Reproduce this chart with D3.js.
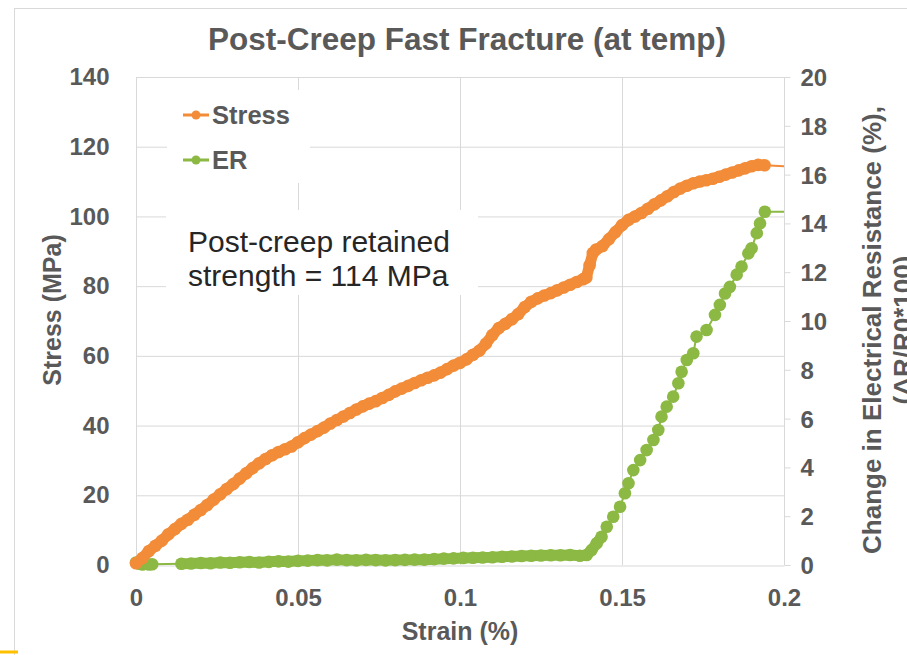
<!DOCTYPE html>
<html><head><meta charset="utf-8">
<script src="https://cdn.jsdelivr.net/npm/d3@7"></script>
<style>body{margin:0;background:#fff;overflow:hidden}</style>
</head><body><svg id="c" width="907" height="655"></svg>
<script>
const titleText = "Post-Creep Fast Fracture (at temp)";
const xTicks = [0, 0.05, 0.1, 0.15, 0.2];
const xTickLabels = ["0", "0.05", "0.1", "0.15", "0.2"];
const stressTicks = [0, 20, 40, 60, 80, 100, 120, 140];
const erTicks = [0, 2, 4, 6, 8, 10, 12, 14, 16, 18, 20];
const seriesNames = ["Stress", "ER"];

const stressStrain = [0,0.002,0.004,0.006,0.008,0.010,0.012,0.014,0.016,0.018,0.020,0.022,0.024,0.026,0.028,0.030,0.032,0.034,0.036,0.038,0.040,0.042,0.044,0.046,0.048,0.050,0.052,0.054,0.056,0.058,0.060,0.062,0.064,0.066,0.068,0.070,0.072,0.074,0.076,0.078,0.080,0.082,0.084,0.086,0.088,0.090,0.092,0.094,0.096,0.098,0.100,0.102,0.104,0.106,0.108,0.110,0.112,0.114,0.116,0.118,0.120,0.122,0.124,0.126,0.128,0.130,0.132,0.134,0.136,0.138,0.139,0.140,0.141,0.142,0.144,0.146,0.148,0.150,0.152,0.154,0.156,0.158,0.160,0.162,0.164,0.166,0.168,0.170,0.172,0.174,0.176,0.178,0.180,0.182,0.184,0.186,0.188,0.190,0.192,0.194,0.205];
const stressValues = [0.5,2,4,5.5,7,8.8,10.3,11.8,13.0,14.4,15.8,17.2,18.8,20.3,21.8,23.2,24.8,26.3,27.8,29.2,30.4,31.5,32.4,33.2,34.0,35.2,36.4,37.4,38.4,39.4,40.6,41.6,42.6,43.6,44.6,45.5,46.3,47.0,47.9,48.8,49.8,50.6,51.4,52.2,53.0,53.7,54.4,55.2,56.2,57.2,58.0,59.0,60.3,61.5,63.5,66.0,68.0,69.2,70.5,72.0,74.0,75.5,76.5,77.3,78.0,78.8,79.6,80.4,81.2,82.0,82.5,86.0,89.5,90.5,91.5,93.5,95.5,97.5,99.0,100.0,101.0,102.2,103.5,104.6,105.8,107.0,108.0,108.8,109.5,110.0,110.4,110.8,111.4,112.0,112.6,113.2,113.8,114.4,114.8,114.7,114.2];

const erStrain = [0,0.001,0.002,0.003,0.004,0.005,0.014,0.017,0.020,0.023,0.026,0.029,0.032,0.035,0.038,0.041,0.044,0.047,0.050,0.053,0.056,0.059,0.062,0.065,0.068,0.071,0.074,0.077,0.080,0.083,0.086,0.089,0.092,0.095,0.098,0.101,0.104,0.107,0.110,0.113,0.116,0.119,0.122,0.125,0.128,0.131,0.134,0.137,0.1391,0.1406,0.1422,0.1437,0.1453,0.1473,0.1494,0.1509,0.1520,0.1535,0.1556,0.1576,0.1597,0.1612,0.1622,0.1638,0.1658,0.1674,0.1684,0.1700,0.1720,0.1730,0.1761,0.1787,0.1802,0.1818,0.1833,0.1854,0.1869,0.1890,0.1900,0.1916,0.1926,0.1941,0.205];
const erValues = [0.1,0.05,0.02,0.05,0.02,0.03,0.05,0.06,0.08,0.07,0.10,0.09,0.11,0.12,0.10,0.13,0.15,0.14,0.17,0.18,0.20,0.19,0.22,0.20,0.19,0.21,0.20,0.19,0.20,0.21,0.22,0.22,0.24,0.26,0.27,0.29,0.30,0.31,0.32,0.34,0.35,0.37,0.38,0.39,0.40,0.40,0.41,0.38,0.41,0.61,0.89,1.16,1.57,1.98,2.39,2.94,3.35,3.89,4.30,4.71,5.12,5.53,6.08,6.49,6.90,7.45,7.92,8.40,8.68,9.36,9.63,10.25,10.66,11.13,11.40,11.90,12.23,12.77,12.98,13.60,14.00,14.48,14.48];

const stressColor = "#F28C38";
const erColor = "#8BB943";
const textColor = "#595959";
const gridColor = "#D9D9D9";

const svg = d3.select("#c");
const X0 = 136, X1 = 784, YT = 77, YB = 565;
const x = d3.scaleLinear().domain([0, 0.2]).range([X0, X1]);
const yL = d3.scaleLinear().domain([0, 140]).range([YB, YT]);
const yR = d3.scaleLinear().domain([0, 20]).range([YB, YT]);

// chart frame
svg.append("rect").attr("x", 14.5).attr("y", 8.5).attr("width", 1000).attr("height", 700)
  .attr("fill", "none").attr("stroke", "#D9D9D9").attr("stroke-width", 1);
svg.append("line").attr("x1", 0).attr("x2", 18).attr("y1", 652).attr("y2", 652)
  .attr("stroke", "#FFC000").attr("stroke-width", 3);

// gridlines
svg.append("g").selectAll("line").data(stressTicks.slice(1)).join("line")
  .attr("x1", X0).attr("x2", X1).attr("y1", d => yL(d) + 0.5).attr("y2", d => yL(d) + 0.5)
  .attr("stroke", gridColor).attr("stroke-width", 1);
svg.append("g").selectAll("line").data(xTicks.slice(1, -1)).join("line")
  .attr("x1", d => Math.round(x(d)) + 0.5).attr("x2", d => Math.round(x(d)) + 0.5).attr("y1", YT).attr("y2", YB)
  .attr("stroke", gridColor).attr("stroke-width", 1);

// axes
const fontTick = "bold 24px 'Liberation Sans', Arial, sans-serif";
const gx = svg.append("g").attr("transform", `translate(0,${YB + 0.5})`)
  .call(d3.axisBottom(x).tickValues(xTicks).tickFormat((d, i) => xTickLabels[i]).tickSize(0).tickPadding(23));
const gl = svg.append("g").attr("transform", `translate(${X0 + 0.5},0)`)
  .call(d3.axisLeft(yL).tickValues(stressTicks).tickFormat(d3.format("d")).tickSize(0).tickPadding(27));
const gr = svg.append("g").attr("transform", `translate(${X1 + 0.5},0)`)
  .call(d3.axisRight(yR).tickValues(erTicks).tickFormat(d3.format("d")).tickSize(6).tickPadding(10));
[gx, gl, gr].forEach(g => {
  g.select(".domain").attr("stroke", gridColor);
  g.selectAll(".tick line").attr("stroke", gridColor);
  g.selectAll(".tick text").style("font", fontTick).attr("fill", textColor);
});
gl.select(".domain").attr("d", `M0,${YT}V${YB}`);
gr.select(".domain").attr("d", `M0,${YT}V${YB}`);
gr.selectAll(".tick text").attr("dy", "0.35em");

// legend background and annotation background
svg.append("rect").attr("x", 167).attr("y", 90).attr("width", 143).attr("height", 93).attr("fill", "#fff");
svg.append("rect").attr("x", 166).attr("y", 210).attr("width", 312).attr("height", 85).attr("fill", "#fff");

// series
const g = svg.append("g");
g.append("clipPath").attr("id", "clip").append("rect").attr("x", X0 - 8).attr("y", YT - 10).attr("width", X1 - X0 + 8).attr("height", YB - YT + 20);
const plot = g.append("g").attr("clip-path", "url(#clip)");

const stressData = stressStrain.map((s, i) => [s, stressValues[i]]);
const erData = erStrain.map((s, i) => [s, erValues[i]]);
const lineGen = yScale => d3.line().x(d => x(d[0])).y(d => yScale(d[1]));

function drawSeries(data, yScale, color, bandData) {
  plot.append("path").datum(data)
    .attr("d", lineGen(yScale))
    .attr("fill", "none").attr("stroke", color).attr("stroke-width", 2);
  // dense-marker band where the recorded points overlap into a solid trace
  plot.append("path").datum(bandData)
    .attr("d", lineGen(yScale))
    .attr("fill", "none").attr("stroke", color).attr("stroke-width", 11)
    .attr("stroke-linejoin", "round").attr("stroke-linecap", "round");
  plot.append("g").selectAll("circle").data(data).join("circle")
    .attr("cx", d => x(d[0])).attr("cy", d => yScale(d[1])).attr("r", 6.3)
    .attr("fill", color);
}
drawSeries(erData, yR, erColor, erData.filter(d => d[0] >= 0.014 && d[0] <= 0.1437));
drawSeries(stressData, yL, stressColor, stressData.filter(d => d[0] <= 0.195));

// legend
const legend = svg.append("g");
[[stressColor, 115, seriesNames[0]], [erColor, 160, seriesNames[1]]].forEach(([c, yy, name]) => {
  legend.append("line").attr("x1", 183).attr("x2", 209).attr("y1", yy).attr("y2", yy).attr("stroke", c).attr("stroke-width", 3);
  legend.append("circle").attr("cx", 196).attr("cy", yy).attr("r", 4.5).attr("fill", c);
  legend.append("text").attr("x", 212).attr("y", yy + 8.5).text(name)
    .style("font", "bold 25.5px 'Liberation Sans', Arial, sans-serif").attr("fill", textColor);
});

// annotation
const ann = svg.append("text").style("font", "30px 'Liberation Sans', Arial, sans-serif").attr("fill", "#262626");
ann.append("tspan").attr("x", 188).attr("y", 252).text("Post-creep retained");
ann.append("tspan").attr("x", 188).attr("y", 286).text("strength = 114 MPa");

// title
svg.append("text").attr("x", 467).attr("y", 50).attr("text-anchor", "middle")
  .style("font", "bold 31.5px 'Liberation Sans', Arial, sans-serif").attr("fill", textColor).text(titleText);

// axis titles
svg.append("text").attr("x", 460).attr("y", 640).attr("text-anchor", "middle")
  .style("font", "bold 25px 'Liberation Sans', Arial, sans-serif").attr("fill", textColor).text("Strain (%)");
svg.append("text").attr("transform", "translate(61,310) rotate(-90)").attr("text-anchor", "middle")
  .style("font", "bold 25px 'Liberation Sans', Arial, sans-serif").attr("fill", textColor).text("Stress (MPa)");
const rt = svg.append("text").attr("transform", "translate(881,330) rotate(-90)").attr("text-anchor", "middle")
  .style("font", "bold 26px 'Liberation Sans', Arial, sans-serif").attr("fill", textColor);
rt.append("tspan").attr("x", 0).attr("y", 0).text("Change in Electrical Resistance (%),");
rt.append("tspan").attr("x", 0).attr("y", 31).text("(ΔR/R0*100)");
</script>
</body></html>
